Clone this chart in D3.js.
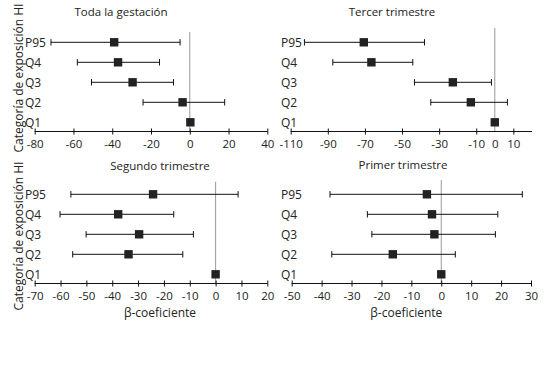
<!DOCTYPE html>
<html><head><meta charset="utf-8">
<script src="https://cdn.jsdelivr.net/npm/d3@7"></script>
<style>body{margin:0;background:#fff}text{font-family:"Open Sans",sans-serif;fill:#222}</style>
</head><body><svg id="c" width="560" height="366"></svg>
<script>
const categories = ["P95","Q4","Q3","Q2","Q1"];
const titles = ["Toda la gestación","Tercer trimestre","Segundo trimestre","Primer trimestre"];
// beta coefficients and 95% CI per panel (Q1 reference has no CI)
const todaBeta = [-39,-37,-29.5,-3.7,0.3];
const todaLow  = [-71.6,-58,-50.7,-24.1,null];
const todaHigh = [-5,-15.6,-8.4,18,null];
const tercerBeta = [-70.6,-66.5,-22.6,-12.9,0];
const tercerLow  = [-102.6,-87.3,-43.3,-34.5,null];
const tercerHigh = [-37.9,-44.2,-1.8,6.8,null];
const segundoBeta = [-24.2,-37.7,-29.6,-33.7,0];
const segundoLow  = [-56,-60.2,-50.1,-55.3,null];
const segundoHigh = [8.7,-16.2,-8.6,-12.7,null];
const primerBeta = [-4.8,-3.1,-2.3,-16.2,0];
const primerLow  = [-37.2,-24.7,-23.2,-36.6,null];
const primerHigh = [27.1,18.9,18.1,4.7,null];
const todaTicks = [-80,-60,-40,-20,0,20,40];
const tercerTicks = [-110,-90,-70,-50,-30,-10,0,10];
const segundoTicks = [-70,-60,-50,-40,-30,-20,-10,0,10,20];
const primerTicks = [-50,-40,-30,-20,-10,0,10,20,30];

const svg = d3.select("#c");
const panels = [
  {title:titles[0], beta:todaBeta, low:todaLow, high:todaHigh, ticks:todaTicks, dom:[-80,40], xr:[34.7,267.3], yr:[42.3,122.3], axisY:131.5, zeroTop:32, tx:121, ty:16, labX:25, xlabel:false, noTick0:false},
  {title:titles[1], beta:tercerBeta, low:tercerLow, high:tercerHigh, ticks:tercerTicks, dom:[-110,20], xr:[290.7,531.9], yr:[42.3,122.3], axisY:131.5, zeroTop:28, tx:392, ty:16, labX:281, xlabel:false, noTick0:true},
  {title:titles[2], beta:segundoBeta, low:segundoLow, high:segundoHigh, ticks:segundoTicks, dom:[-70,20], xr:[34.7,267.3], yr:[194.3,274.3], axisY:283.5, zeroTop:181.7, tx:160, ty:170, labX:25, xlabel:true, noTick0:false},
  {title:titles[3], beta:primerBeta, low:primerLow, high:primerHigh, ticks:primerTicks, dom:[-50,30], xr:[291.7,531], yr:[194.3,274.3], axisY:283.5, zeroTop:180, tx:403, ty:169, labX:281, xlabel:true, noTick0:false}
];

panels.forEach(p => {
  const x = d3.scaleLinear().domain(p.dom).range(p.xr);
  const y = d3.scalePoint().domain(categories).range(p.yr);
  const g = svg.append("g");
  g.append("text").attr("x",p.tx).attr("y",p.ty).attr("text-anchor","middle").attr("font-size",11.5).text(p.title);
  // zero line
  g.append("line").attr("x1",x(0)).attr("x2",x(0)).attr("y1",p.zeroTop).attr("y2",p.axisY).attr("stroke","#999").attr("stroke-width",1);
  // axis
  const ax = g.append("g").attr("transform",`translate(0,${p.axisY})`).call(d3.axisBottom(x).tickValues(p.ticks).tickFormat(d3.format("d")).tickSize(3).tickPadding(5));
  ax.select(".domain").attr("stroke","#111").attr("d",`M${p.xr[0]},0H${p.xr[1]}`);
  ax.selectAll(".tick line").attr("y1",-3).attr("y2",3).attr("stroke","#111");
  if (p.noTick0) ax.selectAll(".tick").filter(d=>d===0).select("line").remove();
  ax.selectAll(".tick text").attr("font-size",11.5).attr("font-family","Open Sans").attr("fill","#222").text(d=>d<0?"-"+Math.abs(d):d);
  // category labels
  g.selectAll(".cat").data(categories).join("text").attr("x",p.labX).attr("y",d=>y(d)+4.5).attr("font-size",12).text(d=>d);
  // error bars
  categories.forEach((c,i) => {
    if (p.low[i]!==null) {
      const yy = y(c);
      g.append("line").attr("x1",x(p.low[i])).attr("x2",x(p.high[i])).attr("y1",yy).attr("y2",yy).attr("stroke","#111").attr("stroke-width",1);
      [p.low[i],p.high[i]].forEach(v=>g.append("line").attr("x1",x(v)).attr("x2",x(v)).attr("y1",yy-3.2).attr("y2",yy+3.2).attr("stroke","#111"));
    }
  });
  g.selectAll(".pt").data(categories).join("rect").attr("x",(d,i)=>x(p.beta[i])-4.2).attr("y",d=>y(d)-4.2).attr("width",8.4).attr("height",8.4).attr("fill","#222");
  if (p.xlabel) g.append("text").attr("x",(p.xr[0]+p.xr[1])/2+ (p.labX<100?9:-5)).attr("y",317).attr("text-anchor","middle").attr("font-size",12).text("β-coeficiente");
});
[[19,78],[19,236]].forEach(([cx,cy])=>{
  svg.append("text").attr("transform",`translate(${cx+4},${cy}) rotate(-90)`).attr("text-anchor","middle").attr("font-size",12).text("Categoría de exposición HI");
});
</script></body></html>
